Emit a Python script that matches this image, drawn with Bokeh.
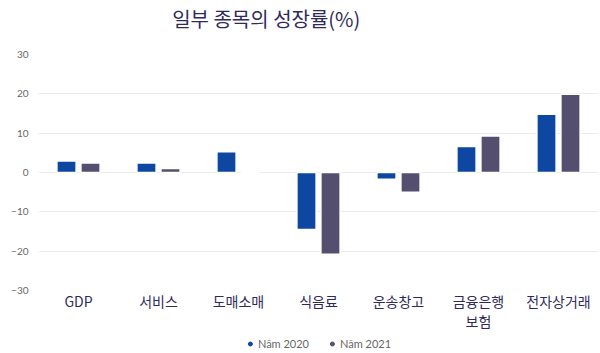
from bokeh.plotting import figure
from bokeh.layouts import column
from bokeh.models import ColumnDataSource, Legend, LegendItem, FactorRange, Range1d, FixedTicker, Label
from bokeh.transform import dodge
from bokeh.embed import file_html
from bokeh.resources import INLINE

title_text = "일부 종목의 성장률(%)"
categories = ["GDP", "서비스", "도매소매", "식음료", "운송창고", "금융은행\n보험", "전자상거래"]
values_2020 = [2.9, 2.4, 5.3, -14.5, -1.7, 6.6, 14.8]
values_2021 = [2.4, 1.0, 0.0, -20.8, -5.0, 9.3, 19.9]
series_names = ["Năm 2020", "Năm 2021"]
y_ticks = [-30, -20, -10, 0, 10, 20, 30]

C2020 = "#0D47A1"
C2021 = "#544F6E"
NAVY = "#2E2B5C"

# title strip
tf = figure(width=600, height=36, x_range=Range1d(0, 600), y_range=Range1d(0, 1),
            output_backend="svg", toolbar_location=None, min_border=0)
tf.outline_line_color = None
tf.axis.visible = False
tf.grid.visible = False
tf.add_layout(Label(x=244, y=0.5, text=title_text, text_align="center", text_baseline="middle",
                    text_font="Noto Sans CJK KR", text_font_size="20px", text_color=NAVY))

source = ColumnDataSource(dict(cat=categories, v2020=values_2020, v2021=values_2021))

p = figure(width=600, height=297, x_range=FactorRange(*categories), y_range=Range1d(-30, 30),
           output_backend="svg", toolbar_location=None,
           min_border_left=38, min_border_right=2, min_border_bottom=33, min_border_top=18)
p.outline_line_color = None
p.background_fill_color = "white"
p.border_fill_color = "white"

p.vbar(x=dodge("cat", -0.15, range=p.x_range), top="v2020", width=0.24, source=source,
       fill_color=C2020, line_color="white", line_width=1.5)
p.vbar(x=dodge("cat", 0.15, range=p.x_range), top="v2021", width=0.24, source=source,
       fill_color=C2021, line_color="white", line_width=1.5)

p.yaxis.ticker = FixedTicker(ticks=y_ticks)
p.yaxis.axis_line_color = None
p.yaxis.major_tick_line_color = None
p.yaxis.minor_tick_line_color = None
p.yaxis.major_tick_out = 0
p.yaxis.major_label_text_font = "Lato"
p.yaxis.major_label_text_font_size = "10px"
p.yaxis.major_label_text_color = "#666666"
p.yaxis.major_label_standoff = 10

p.xaxis.axis_line_color = None
p.xaxis.major_tick_line_color = None
p.xaxis.minor_tick_line_color = None
p.xaxis.major_tick_out = 0
p.xaxis.major_tick_in = 0
p.xaxis.major_label_text_font = "Noto Sans CJK KR"
p.xaxis.major_label_text_font_size = "14px"
p.xaxis.major_label_text_line_height = 1.0
p.xaxis.major_label_text_color = NAVY
p.xaxis.major_label_standoff = 0

p.xgrid.grid_line_color = None
p.ygrid.grid_line_color = "#EBEBEB"
p.ygrid.grid_line_width = 1

# legend strip below the chart
lf = figure(width=600, height=20, x_range=Range1d(0, 1), y_range=Range1d(0, 1),
            output_backend="svg", toolbar_location=None, min_border=0)
lf.outline_line_color = None
lf.axis.visible = False
lf.grid.visible = False
marker_src = ColumnDataSource(dict(x=[float("nan")], y=[float("nan")]))
d1 = lf.scatter(x="x", y="y", source=marker_src, marker="circle", size=9, fill_color=C2020, line_color=C2020)
d2 = lf.scatter(x="x", y="y", source=marker_src, marker="circle", size=9, fill_color=C2021, line_color=C2021)
legend = Legend(items=[LegendItem(label=series_names[0], renderers=[d1]),
                       LegendItem(label=series_names[1], renderers=[d2])],
                orientation="horizontal", location="center",
                border_line_color=None, background_fill_alpha=0,
                label_text_font="Lato", label_text_font_size="11px", label_text_color="#666666",
                glyph_width=10, glyph_height=10, label_standoff=3, spacing=18, padding=2, margin=0)
lf.add_layout(legend, "center")

layout = column(tf, p, lf, spacing=0)
open("out.html", "w").write(file_html(layout, INLINE))
